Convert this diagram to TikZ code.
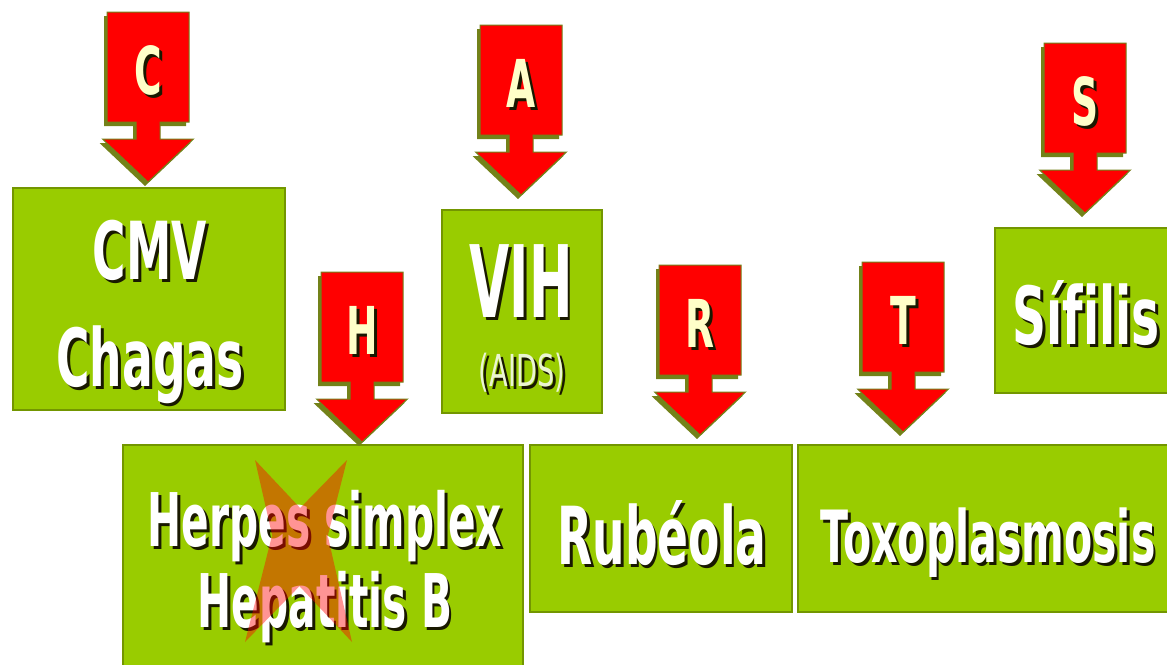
\documentclass[tikz,border=0pt]{standalone}
\usepackage{graphicx}
\usepackage{fontspec}
\setmainfont{DejaVu Sans}[Ligatures=NoCommon]
\definecolor{boxgreen}{RGB}{153,204,0}
\definecolor{boxedge}{RGB}{115,150,0}
\definecolor{arrowred}{RGB}{255,0,0}
\definecolor{arrowshade}{RGB}{115,130,25}
\definecolor{letteryellow}{RGB}{255,255,200}
\definecolor{txtshade}{RGB}{25,25,0}
\definecolor{aidswhite}{RGB}{235,245,210}
\newcommand{\lbl}[2][0.57]{\scalebox{#1}[1]{\rlap{\kern2.5pt\raisebox{-1.5pt}{\color{txtshade}#2}}#2}}
\begin{document}
\begin{tikzpicture}[x=0.5pt, y=-0.5pt,
    disease/.style={rectangle, fill=boxgreen, draw=boxedge, line width=0.75pt, inner sep=0pt},
    boxlabel/.style={text=white, align=center, inner sep=0pt, text depth=0pt, anchor=south,
        font=\bfseries\fontsize{40}{53.5}\selectfont},
    arrowletter/.style={text=letteryellow, inner sep=0pt, font=\bfseries\fontsize{33}{33}\selectfont},
    letterarrow/.pic={
        \path[fill=arrowred, draw=arrowshade, line width=0.5pt,
            preaction={fill=arrowshade, transform canvas={shift={(-1.5pt,-2pt)}}}]
            (-41,0) -- (41,0) -- (41,110) -- (12,110) -- (12,127) -- (45.5,127) -- (0,170)
            -- (-45.5,127) -- (-12,127) -- (-12,110) -- (-41,110) -- cycle;
        \node[arrowletter] (-lt) at (0,60) {\lbl{#1}};
    }]
    \useasboundingbox (0,0) rectangle (1167,664);
    \clip (0,0) rectangle (1167,664);
    \fill[white] (0,0) rectangle (1167,664);

    \node[disease, minimum width=136pt, minimum height=111pt] (cmvbox) at (149,299) {};
    \node[disease, minimum width=80pt, minimum height=101.5pt] (vihbox) at (522,311.5) {};
    \node[disease, minimum width=90pt, minimum height=82.5pt] (sifbox) at (1085,310.5) {};
    \node[disease, minimum width=200pt, minimum height=114pt] (herbox) at (323,559) {};
    \node[disease, minimum width=131pt, minimum height=83.5pt] (rubbox) at (661,528.5) {};
    \node[disease, minimum width=188.5pt, minimum height=83.5pt] (toxbox) at (986.5,528.5) {};

    \node[boxlabel] (cmv) at (150,387) {\lbl{CMV}\\\lbl{Chagas}};
    \node[boxlabel, font=\bfseries\fontsize{50}{50}\selectfont] (vih) at (521,318) {\lbl[0.52]{VIH}};
    \node[boxlabel, text=aidswhite, font=\fontsize{22}{23}\selectfont] (aids) at (522,387) {\lbl[0.62]{(AIDS)}};
    \node[boxlabel, font=\bfseries\fontsize{40}{40}\selectfont] (sif) at (1086,345) {\lbl[0.59]{Sífilis}};
    \node[boxlabel, font=\bfseries\fontsize{37}{40.5}\selectfont] (her) at (325,628) {\lbl[0.55]{Herpes simplex}\\\lbl[0.55]{Hepatitis B}};
    \node[boxlabel] (rub) at (662,565) {\lbl{Rubéola}};
    \node[boxlabel, font=\bfseries\fontsize{36}{36}\selectfont] (tox) at (988,563) {\lbl{Toxoplasmosis}};

    \pic (carr) at (148,12) {letterarrow=C};
    \pic (aarr) at (521,25) {letterarrow=A};
    \pic (sarr) at (1085,43) {letterarrow=S};
    \pic (harr) at (362,272) {letterarrow=H};
    \pic (rarr) at (700,265) {letterarrow=R};
    \pic (tarr) at (903,262) {letterarrow=T};

    \fill[red, opacity=0.42]
        (255,460) -- (328.2,537.8) -- (352,642) -- (278.8,564.2) -- cycle
        (347,460) -- (320.4,564.7) -- (245,642) -- (271.6,537.3) -- cycle;
\end{tikzpicture}
\end{document}
